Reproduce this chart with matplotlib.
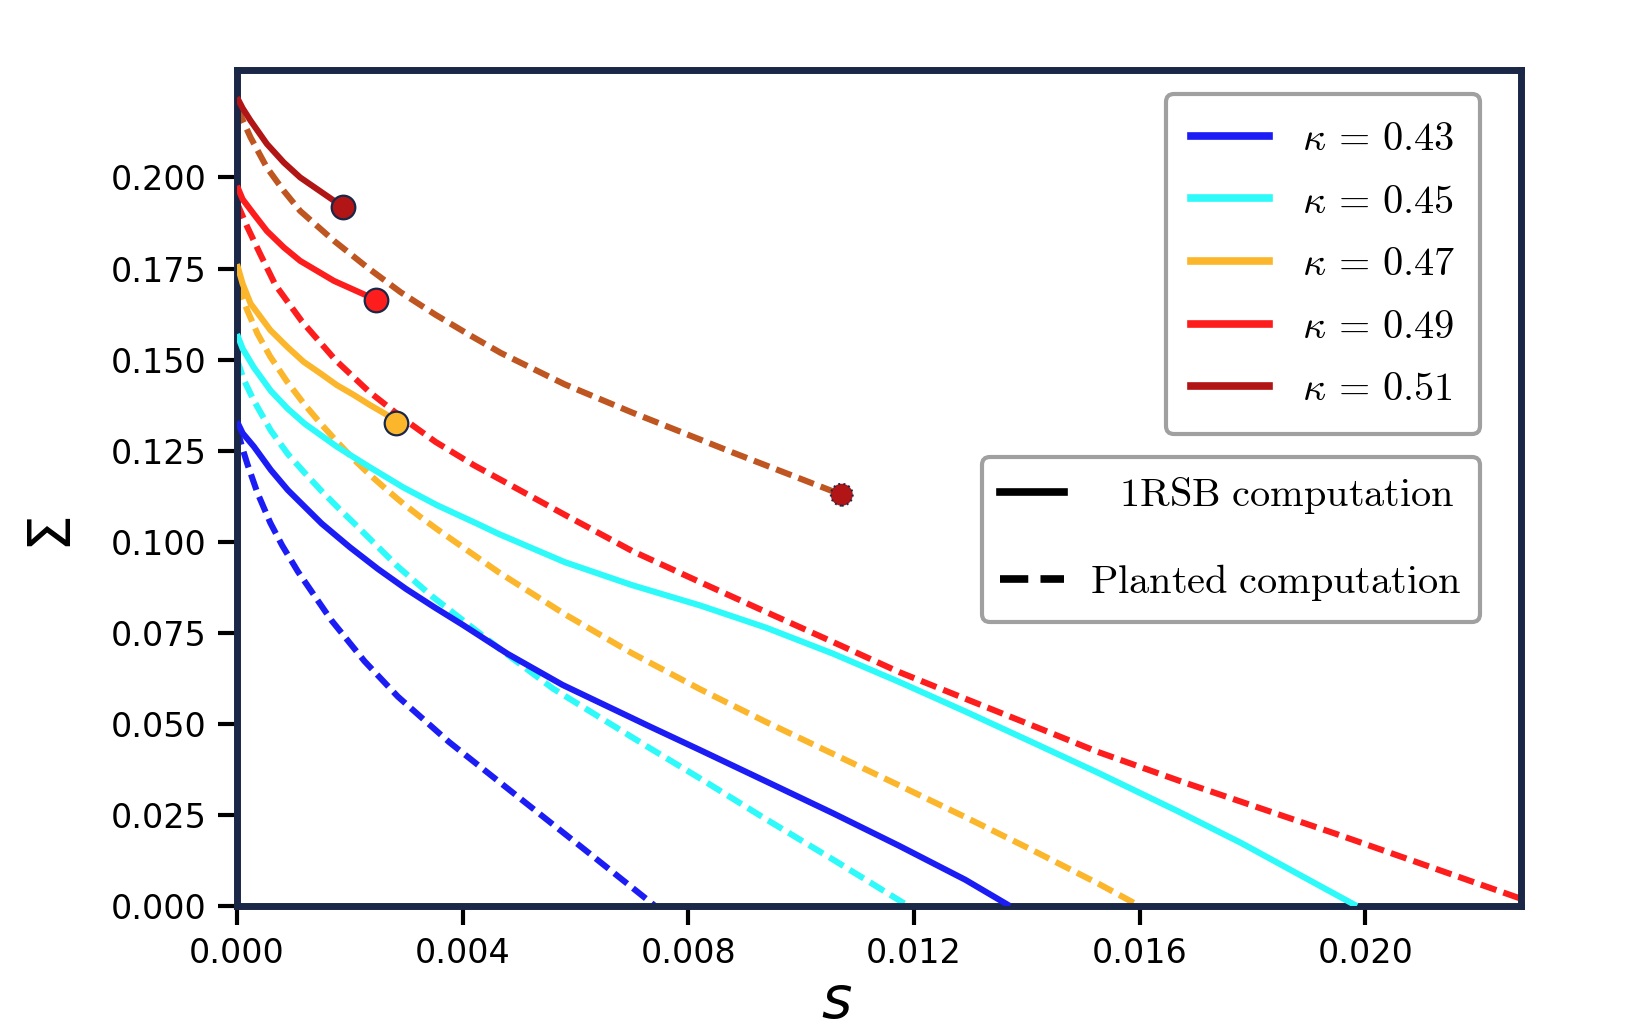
import matplotlib
matplotlib.use('Agg')
import matplotlib.pyplot as plt
from matplotlib.font_manager import FontProperties
from matplotlib.lines import Line2D
from matplotlib.ticker import FormatStrFormatter

plt.rcParams['mathtext.fontset'] = 'dejavusans'
plt.rcParams['font.family'] = ['DejaVu Sans']

# ---------------- data ----------------
kappas = ["0.43", "0.45", "0.47", "0.49", "0.51"]
colors = ["#1c1cf5", "#2efafa", "#fbb62b", "#fd1d1d", "#b11515"]
planted_colors = ["#1c1cf5", "#2efafa", "#fbb62b", "#fd1d1d", "#bf5520"]

# 1RSB computation (solid)
s_1rsb_043 = [0.0, 0.0001, 0.0003, 0.0006, 0.0009, 0.0012, 0.0015, 0.0020, 0.0025, 0.0030, 0.0035,
              0.0040, 0.0048, 0.00577, 0.0073, 0.00821, 0.00938, 0.01056, 0.01174, 0.01291, 0.01370]
S_1rsb_043 = [0.133, 0.1298, 0.1261, 0.1197, 0.1142, 0.1096, 0.1050, 0.0985, 0.0925, 0.0870, 0.0820,
              0.0772, 0.0692, 0.0607, 0.0494, 0.0428, 0.0342, 0.0255, 0.0165, 0.0072, 0.0]

s_1rsb_045 = [0.0, 0.0001, 0.0003, 0.0006, 0.0009, 0.0012, 0.00177, 0.00236, 0.00295, 0.00355,
              0.00425, 0.00463, 0.00581, 0.0070, 0.00821, 0.00938, 0.01056, 0.01174, 0.01291,
              0.01409, 0.01526, 0.01668, 0.0178, 0.01985]
S_1rsb_045 = [0.157, 0.1530, 0.1478, 0.1414, 0.1365, 0.1324, 0.1261, 0.1204, 0.1149, 0.1100,
              0.1050, 0.1022, 0.0944, 0.0881, 0.0825, 0.0764, 0.0693, 0.0615, 0.0534,
              0.0450, 0.0366, 0.0260, 0.0173, 0.0]

s_1rsb_047 = [0.0, 0.0001, 0.00024, 0.00059, 0.00089, 0.00118, 0.00148, 0.00177, 0.00207, 0.00236, 0.00266, 0.00281]
S_1rsb_047 = [0.1762, 0.1708, 0.1654, 0.1581, 0.1535, 0.1494, 0.1462, 0.1430, 0.1403, 0.1375, 0.1348, 0.1325]

s_1rsb_049 = [0.0, 0.0001, 0.0003, 0.00053, 0.00083, 0.00112, 0.00172, 0.00231, 0.00247]
S_1rsb_049 = [0.1977, 0.1940, 0.1899, 0.1853, 0.1808, 0.1771, 0.1716, 0.1675, 0.1663]

s_1rsb_051 = [0.0, 0.0001, 0.00024, 0.00053, 0.00083, 0.00112, 0.00142, 0.00188]
S_1rsb_051 = [0.222, 0.2190, 0.2156, 0.2092, 0.2041, 0.2000, 0.1968, 0.1919]

# Planted computation (dashed)
s_pl_043 = [0.0, 0.00009, 0.00018, 0.00036, 0.00059, 0.00080, 0.00108, 0.00167, 0.00226, 0.00285,
            0.00376, 0.00494, 0.00612, 0.0073, 0.00741]
S_pl_043 = [0.131, 0.1260, 0.1215, 0.1135, 0.1052, 0.0990, 0.0918, 0.0785, 0.0672, 0.0575,
            0.0450, 0.0305, 0.0160, 0.0014, 0.0]

s_pl_045 = [0.0, 0.00012, 0.0003, 0.0006, 0.0009, 0.0012, 0.0015, 0.0018, 0.0021, 0.00285,
            0.00345, 0.00463, 0.0056, 0.0073, 0.00821, 0.00938, 0.01056, 0.0119]
S_pl_045 = [0.150, 0.1445, 0.1387, 0.1305, 0.1241, 0.1189, 0.1139, 0.1092, 0.1047, 0.0932,
            0.0851, 0.0709, 0.0597, 0.0435, 0.0350, 0.0238, 0.0128, 0.0]

s_pl_047 = [0.0, 0.00018, 0.00036, 0.00059, 0.00089, 0.00118, 0.00148, 0.00177, 0.00207, 0.00236,
            0.00266, 0.00295, 0.00325, 0.00355, 0.00463, 0.00581, 0.0070, 0.00821, 0.00938,
            0.01056, 0.01174, 0.01291, 0.01409, 0.01526, 0.0160]
S_pl_047 = [0.1707, 0.1636, 0.1572, 0.1508, 0.1439, 0.1380, 0.1325, 0.1275, 0.1226, 0.1183,
            0.1142, 0.1104, 0.1068, 0.1034, 0.0917, 0.0801, 0.0694, 0.0595, 0.0505,
            0.0418, 0.0331, 0.0244, 0.0154, 0.0062, 0.0]

s_pl_049 = [0.0, 0.00018, 0.00041, 0.00068, 0.00115, 0.00175, 0.00234, 0.00293, 0.00352, 0.0042,
            0.0047, 0.00581, 0.0070, 0.00821, 0.00938, 0.01056, 0.01174, 0.01291, 0.01409,
            0.01526, 0.01668, 0.0195, 0.02276]
S_pl_049 = [0.193, 0.1865, 0.179, 0.1705, 0.1605, 0.1498, 0.1412, 0.1340, 0.1274, 0.1210,
            0.1168, 0.1074, 0.0975, 0.0889, 0.0807, 0.0725, 0.0642, 0.0569, 0.0496,
            0.0423, 0.0345, 0.0197, 0.0020]

s_pl_051 = [0.0, 0.00024, 0.00053, 0.00083, 0.00112, 0.00172, 0.00231, 0.0029, 0.00352, 0.00415,
            0.00468, 0.00581, 0.0070, 0.00877, 0.01072]
S_pl_051 = [0.2192, 0.2110, 0.2027, 0.1963, 0.1908, 0.1826, 0.1753, 0.1685, 0.1623, 0.1565,
            0.1518, 0.1432, 0.1355, 0.1246, 0.1129]

s_1rsb = [s_1rsb_043, s_1rsb_045, s_1rsb_047, s_1rsb_049, s_1rsb_051]
S_1rsb = [S_1rsb_043, S_1rsb_045, S_1rsb_047, S_1rsb_049, S_1rsb_051]
s_pl = [s_pl_043, s_pl_045, s_pl_047, s_pl_049, s_pl_051]
S_pl = [S_pl_043, S_pl_045, S_pl_047, S_pl_049, S_pl_051]

xticks = [0.000, 0.004, 0.008, 0.012, 0.016, 0.020]
yticks = [0.000, 0.025, 0.050, 0.075, 0.100, 0.125, 0.150, 0.175, 0.200]

# ---------------- figure ----------------
W, H = 1631, 1030
fig = plt.figure(figsize=(W / 100, H / 100), dpi=100)
ax = fig.add_axes([237 / W, 1 - 906 / H, (1521 - 237) / W, (906 - 70) / H])

LW = 4.4
for i in range(5):
    ax.plot(s_pl[i], S_pl[i], ls=(0, (2.7, 1.2)), color=planted_colors[i], lw=LW,
            zorder=2, solid_joinstyle='round', dash_joinstyle='round')
for i in range(5):
    ax.plot(s_1rsb[i], S_1rsb[i], ls='-', color=colors[i], lw=LW, zorder=3,
            solid_joinstyle='round', solid_capstyle='butt')

edge = '#1b2747'
# end points of the 1RSB curves for kappa = 0.47, 0.49, 0.51
for i in [2, 3, 4]:
    ax.plot([s_1rsb[i][-1]], [S_1rsb[i][-1]], 'o', ms=17, mfc=colors[i], mec=edge,
            mew=1.6, zorder=5)
# end point of the planted kappa=0.51 curve
ax.scatter([s_pl[4][-1]], [S_pl[4][-1]], s=250, c=colors[4], edgecolors=edge,
           linewidths=1.4, linestyles=':', zorder=5)

ax.set_xlim(0, 0.02276)
ax.set_ylim(0, 0.2295)
ax.set_xticks(xticks)
ax.set_yticks(yticks)
ax.xaxis.set_major_formatter(FormatStrFormatter('%.3f'))
ax.yaxis.set_major_formatter(FormatStrFormatter('%.3f'))
ax.tick_params(direction='out', length=14, width=3, color='black', labelsize=24, pad=8)

for sp in ax.spines.values():
    sp.set_color(edge)
    sp.set_linewidth(5)

ax.set_xlabel(r'$s$', fontsize=42)
ax.xaxis.set_label_coords(0.467, -0.08)
ax.set_ylabel(r'$\Sigma$', fontsize=42)
ax.yaxis.set_label_coords(-0.12, 0.444)

# ---------------- legends ----------------
prop = FontProperties(size=29, math_fontfamily='cm')
h1 = [Line2D([], [], color=c, lw=5.5) for c in colors]
l1 = [r'$\kappa\,=\,%s\;$' % k for k in kappas]
leg1 = ax.legend(h1, l1, loc='upper right', bbox_to_anchor=(1480 / W, 1 - 94 / H),
                 bbox_transform=fig.transFigure, borderaxespad=0, prop=prop,
                 handlelength=1.95, handletextpad=0.8, labelspacing=0.56, borderpad=0.62,
                 fancybox=True, framealpha=1, edgecolor='#a0a0a0')
leg1.get_frame().set_linewidth(3)
ax.add_artist(leg1)

h2 = [Line2D([], [], color='black', lw=5.5, ls='-'),
      Line2D([], [], color='black', lw=5.5, ls='--')]
l2 = [r'$\;\;\;\mathrm{1RSB\ computation}$', r'$\mathrm{Planted\ computation}$']
leg2 = ax.legend(h2, l2, loc='upper right', bbox_to_anchor=(1480 / W, 1 - 457 / H),
                 bbox_transform=fig.transFigure, borderaxespad=0, prop=prop,
                 handlelength=1.6, handletextpad=0.65, labelspacing=1.15, borderpad=0.45,
                 fancybox=True, framealpha=1, edgecolor='#a0a0a0')
leg2.get_frame().set_linewidth(3)

fig.savefig('out.png', dpi=100)
